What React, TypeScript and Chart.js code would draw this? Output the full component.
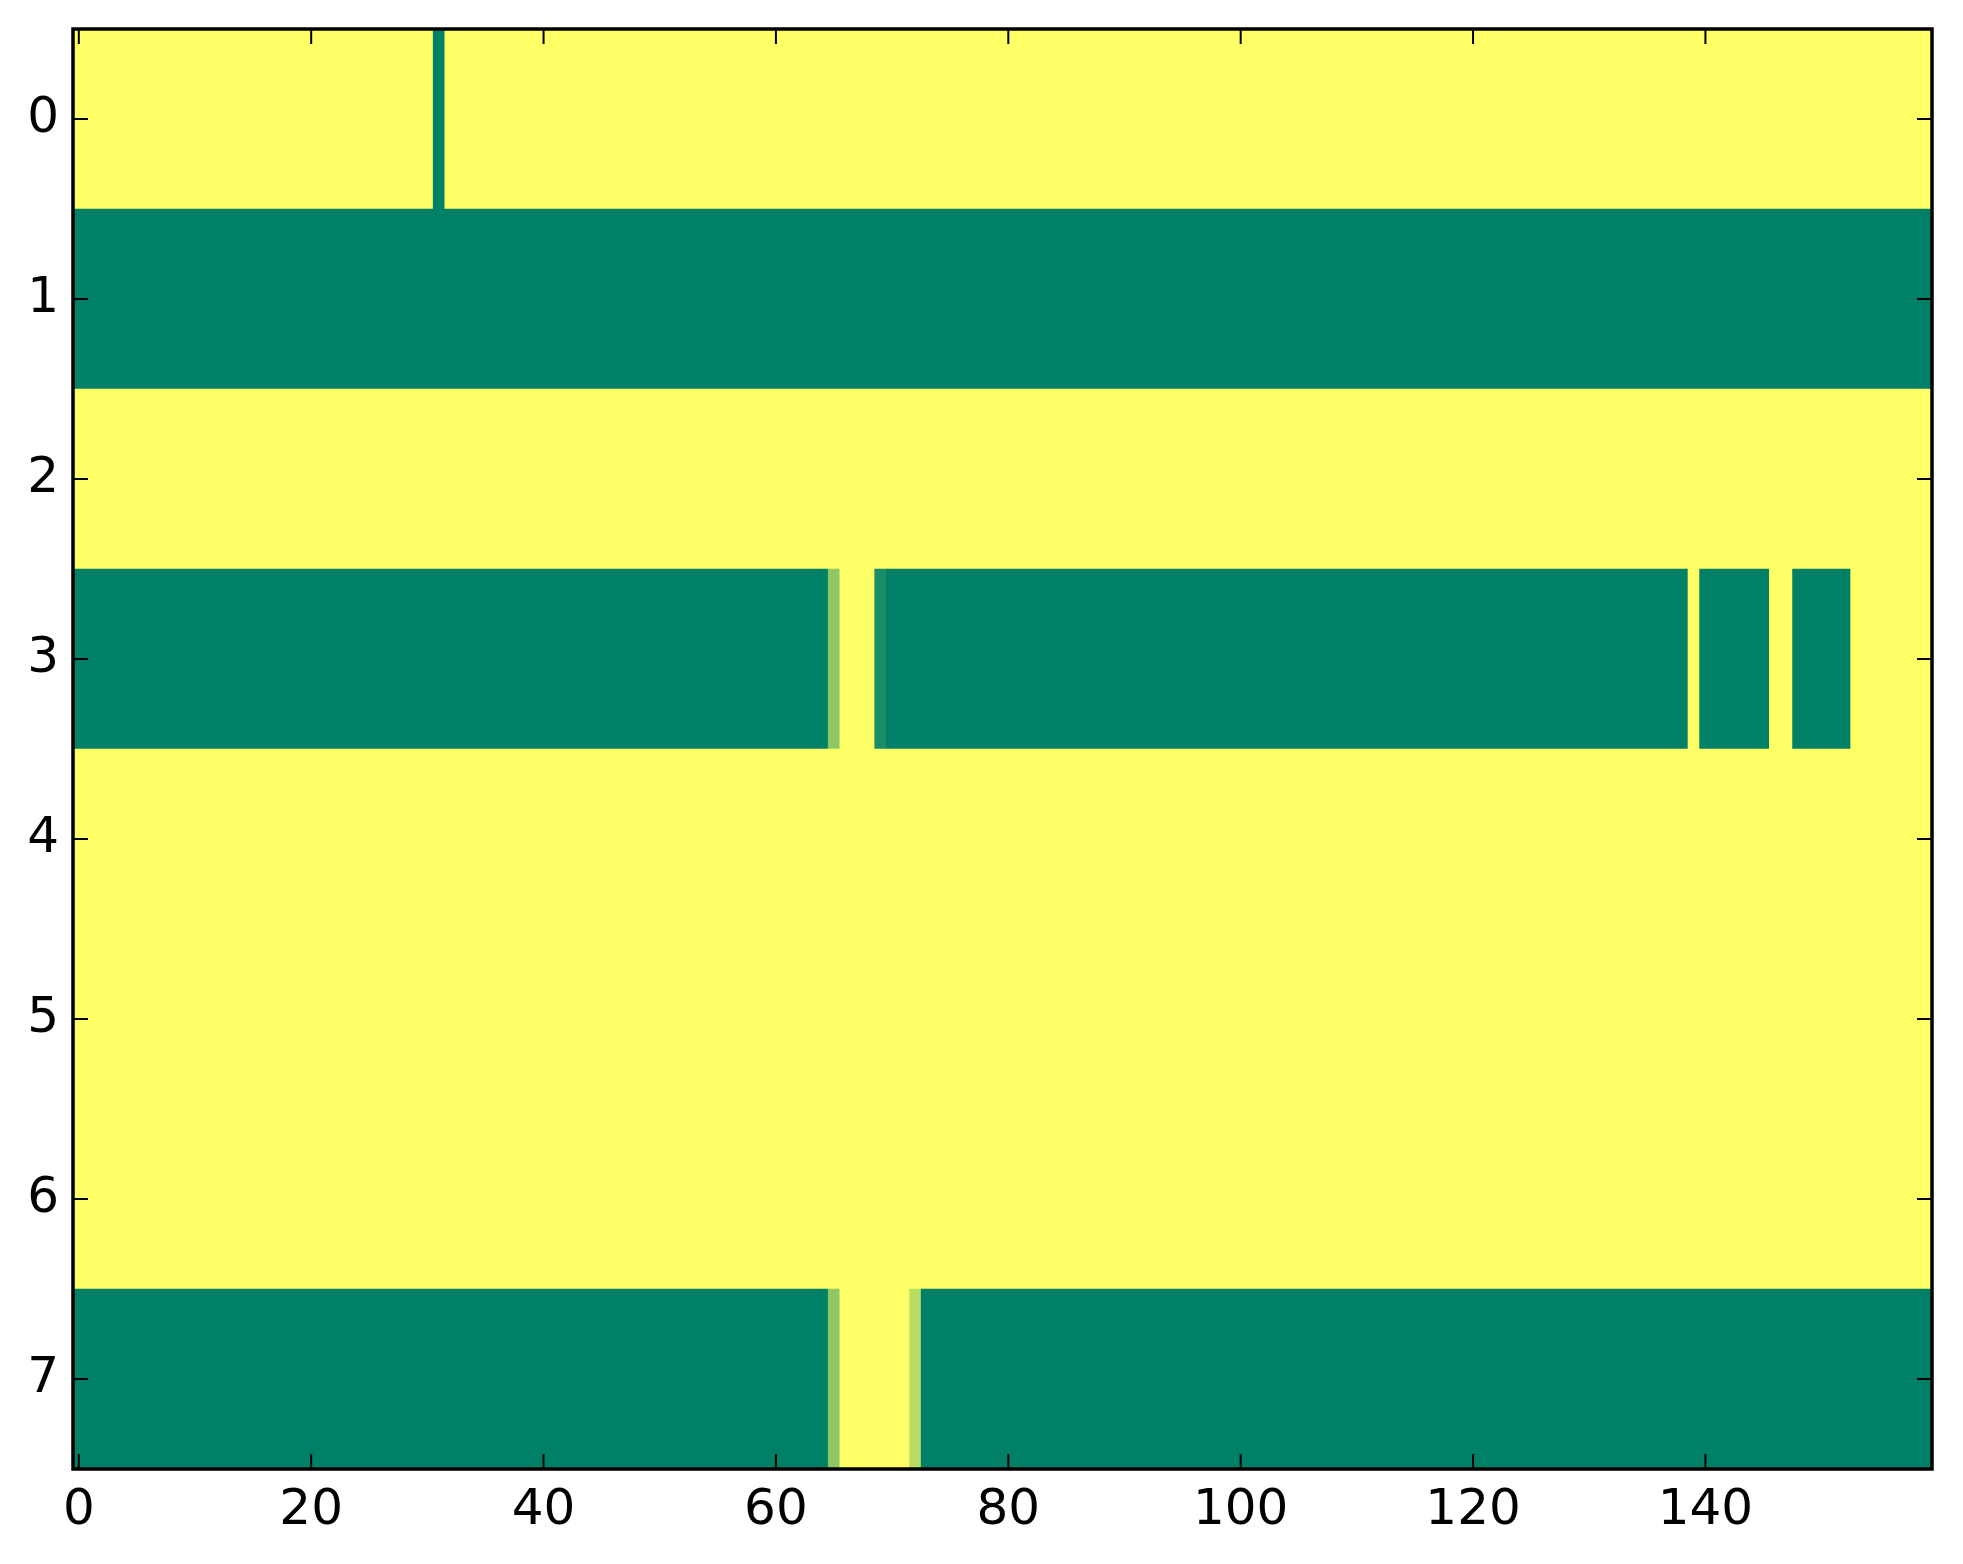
import React, { useEffect, useRef } from "react";
import { Chart, registerables } from "chart.js";

Chart.register(...registerables);

// Each row: run-length list of [value, count] (160 columns)
const row0: [number, number][] = [[1, 31], [0, 1], [1, 128]];
const row1: [number, number][] = [[0, 160]];
const row2: [number, number][] = [[1, 160]];
const row3: [number, number][] = [
  [0, 65], [0.56, 1], [1, 3], [0.1, 1], [0, 69], [1, 1], [0, 6], [1, 2], [0, 5], [1, 7],
];
const row4: [number, number][] = [[1, 160]];
const row5: [number, number][] = [[1, 160]];
const row6: [number, number][] = [[1, 160]];
const row7: [number, number][] = [[0, 65], [0.56, 1], [1, 6], [0.73, 1], [0, 87]];
const rows = [row0, row1, row2, row3, row4, row5, row6, row7];

const xTicks = [0, 20, 40, 60, 80, 100, 120, 140];
const yTicks = [0, 1, 2, 3, 4, 5, 6, 7];
const nCols = 160;

function summer(v: number): string {
  const r = Math.round(255 * v);
  const g = Math.round(255 * (0.5 + 0.5 * v));
  return `rgb(${r},${g},102)`;
}

export default function App() {
  const ref = useRef<HTMLCanvasElement | null>(null);
  useEffect(() => {
    if (!ref.current) return;
    const points: { x: [number, number]; y: number }[] = [];
    const colors: string[] = [];
    rows.forEach((runs, r) => {
      let c = 0;
      runs.forEach(([v, n]) => {
        points.push({ x: [c - 0.5, c + n - 0.5], y: r });
        colors.push(summer(v));
        c += n;
      });
    });

    const W = 1963, H = 1564;
    const left = 73, right = 1932, top = 29, bottom = 1469;
    const font = { family: "'DejaVu Sans'", size: 50 };

    const framePlugin = {
      id: "frame",
      afterDraw(chart: any) {
        const ctx = chart.ctx;
        const a = chart.chartArea;
        const xs = chart.scales.x, ys = chart.scales.y;
        ctx.save();
        ctx.strokeStyle = "#000";
        ctx.lineWidth = 2;
        const tl = 15;
        ctx.beginPath();
        xTicks.forEach((t) => {
          const px = xs.getPixelForValue(t);
          ctx.moveTo(px, a.bottom);
          ctx.lineTo(px, a.bottom - tl);
          ctx.moveTo(px, a.top);
          ctx.lineTo(px, a.top + tl);
        });
        yTicks.forEach((t) => {
          const py = ys.getPixelForValue(t);
          ctx.moveTo(a.left, py);
          ctx.lineTo(a.left + tl, py);
          ctx.moveTo(a.right, py);
          ctx.lineTo(a.right - tl, py);
        });
        ctx.stroke();
        ctx.lineWidth = 3.5;
        ctx.strokeRect(a.left, a.top, a.right - a.left, a.bottom - a.top);
        ctx.restore();
      },
    };

    const chart = new Chart(ref.current, {
      type: "bar",
      data: {
        datasets: [
          {
            data: points as any,
            backgroundColor: colors,
            borderWidth: 0,
            borderSkipped: false,
            barPercentage: 1,
            categoryPercentage: 1,
          },
        ],
      },
      options: {
        indexAxis: "y",
        animation: false,
        responsive: false,
        devicePixelRatio: 1,
        layout: { padding: { left: 0, top: top, right: W - right, bottom: 0 } },
        plugins: { legend: { display: false }, tooltip: { enabled: false } },
        scales: {
          x: {
            type: "linear",
            position: "bottom",
            min: -0.5,
            max: nCols - 0.5,
            offset: false,
            grid: { display: false, drawTicks: false },
            border: { display: false },
            afterBuildTicks: (s: any) => {
              s.ticks = xTicks.map((v) => ({ value: v }));
            },
            afterFit: (s: any) => {
              s.height = H - bottom;
              s.paddingLeft = 0;
              s.paddingRight = 0;
            },
            ticks: { font, color: "#000", padding: 12, maxRotation: 0, autoSkip: false },
          },
          y: {
            type: "linear",
            reverse: true,
            min: -0.5,
            max: 7.5,
            offset: false,
            grid: { display: false, drawTicks: false },
            border: { display: false },
            afterBuildTicks: (s: any) => {
              s.ticks = yTicks.map((v) => ({ value: v }));
            },
            afterFit: (s: any) => {
              s.width = left;
              s.paddingTop = 0;
              s.paddingBottom = 0;
            },
            ticks: { font, color: "#000", padding: 14, autoSkip: false },
          },
        },
      },
      plugins: [framePlugin],
    });
    return () => chart.destroy();
  }, []);

  return (
    <div style={{ position: "fixed", left: 0, top: 0, width: 1963, height: 1564, background: "#fff" }}>
      <canvas ref={ref} width={1963} height={1564} style={{ display: "block", width: 1963, height: 1564 }} />
    </div>
  );
}
